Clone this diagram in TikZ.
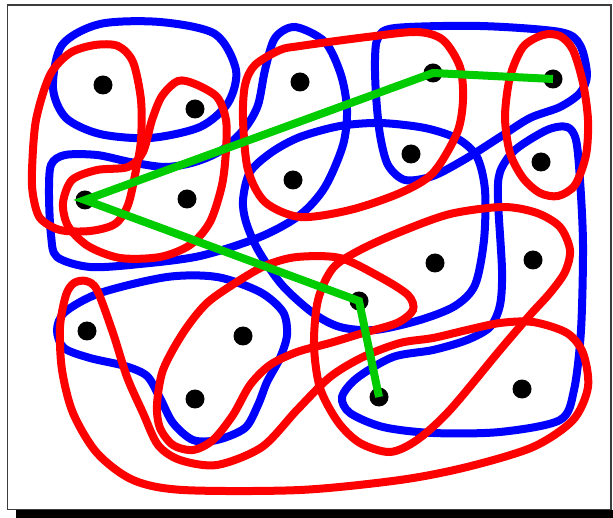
\documentclass[tikz,border=0pt]{standalone}
\definecolor{hblue}{RGB}{0,0,255}
\definecolor{hred}{RGB}{255,0,0}
\definecolor{hgreen}{RGB}{0,204,0}
\definecolor{frame}{RGB}{60,60,60}
\begin{document}
\begin{tikzpicture}[x=1pt,y=-1pt,
  bluecurve/.style={draw=hblue,line width=8pt},
  redcurve/.style={draw=hred,line width=8pt},
  vertex/.style={circle,fill=black,minimum size=19pt,inner sep=0pt},
  greenline/.style={draw=hgreen,line width=8pt,line join=miter}]
\useasboundingbox (0,0) rectangle (613,518);
% shadow and frame
\fill[black] (16,510) rectangle (613,518);
\draw[frame,line width=1.2pt,fill=white] (7.5,5) rectangle (611,509.5);
% blue hyperedges
\draw[bluecurve] plot[smooth cycle] coordinates {(62,45) (100,24) (160,22) (215,34) (236,70) (228,103) (200,127) (150,138) (100,134) (66,118) (53,88)};
\draw[bluecurve] plot[smooth cycle] coordinates {(49,195) (51,165) (65,155) (97,155) (130,162) (165,167) (195,162) (222,150) (245,128) (258,105) (265,70) (275,38) (295,27) (325,42) (341,75) (347,110) (343,145) (325,187) (300,215) (260,237) (200,256) (140,264) (90,267) (57,257) (51,235)};
\draw[bluecurve] plot[smooth cycle] coordinates {(243,200) (250,172) (272,152) (300,137) (340,126) (380,123) (425,128) (458,139) (477,157) (485,190) (484,240) (475,285) (455,306) (420,320) (375,330) (340,327) (313,313) (282,285) (258,250) (246,222)};
\draw[bluecurve] plot[smooth cycle] coordinates {(375,60) (378,38) (395,28) (480,26) (560,32) (580,45) (587,75) (580,93) (560,107) (530,118) (500,137) (467,158) (433,176) (405,180) (388,165) (380,135) (376,95)};
\draw[bluecurve] plot[smooth cycle] coordinates {(498,200) (500,172) (515,150) (547,130) (567,127) (576,140) (580,180) (583,245) (581,330) (574,390) (560,420) (500,432) (433,433) (383,427) (350,413) (342,397) (357,378) (393,357) (433,350) (467,340) (490,327) (500,305) (502,270)};
\draw[bluecurve] plot[smooth cycle] coordinates {(57,330) (65,312) (100,293) (167,277) (217,277) (260,292) (283,312) (287,335) (280,358) (267,382) (258,405) (245,428) (217,440) (193,440) (173,423) (160,398) (147,376) (125,366) (90,358) (64,348)};
% red hyperedges
\draw[redcurve] plot[smooth cycle] coordinates {(32,170) (36,120) (50,75) (70,53) (95,45) (118,46) (133,62) (141,100) (141,140) (136,170) (128,205) (115,224) (90,231) (60,230) (40,218) (33,195)};
\draw[redcurve] plot[smooth cycle] coordinates {(63,203) (72,180) (97,170) (128,167) (143,152) (152,120) (162,96) (178,81) (195,84) (217,97) (226,120) (226,150) (222,185) (210,222) (190,245) (160,257) (120,258) (88,246) (68,226)};
\draw[redcurve] plot[smooth cycle] coordinates {(243,120) (245,85) (255,65) (280,50) (300,46) (367,37) (417,32) (443,40) (460,67) (463,100) (457,133) (433,173) (400,193) (350,210) (300,217) (265,202) (248,170)};
\draw[redcurve] plot[smooth cycle] coordinates {(543,35) (560,36) (573,50) (583,83) (588,120) (586,155) (575,185) (558,196) (540,193) (523,178) (510,153) (505,117) (510,77) (523,47)};
\draw[redcurve] plot[smooth cycle] coordinates {(333,268) (360,250) (400,232) (450,214) (503,207) (537,213) (560,227) (570,250) (565,272) (550,293) (530,315) (500,350) (450,410) (417,440) (390,452) (360,443) (338,422) (320,388) (314,345) (318,300)};
\draw[redcurve] plot[smooth cycle] coordinates {(66,295) (74,283) (86,281) (97,290) (113,333) (127,377) (143,413) (158,445) (180,460) (217,465) (262,447) (297,410) (330,377) (363,357) (400,343) (433,338) (467,330) (500,323) (533,322) (567,333) (583,353) (588,387) (573,420) (533,447) (467,467) (400,480) (300,490) (183,490) (133,480) (97,453) (73,413) (62,370) (60,327)};
\draw[redcurve] plot[smooth cycle] coordinates {(157,405) (163,370) (183,333) (207,303) (240,280) (267,265) (297,257) (340,258) (380,277) (408,295) (413,310) (397,323) (363,333) (330,343) (297,352) (270,365) (250,385) (233,415) (213,440) (193,450) (173,445) (160,428)};
% vertices
\node[vertex] (d1) at (103,85) {};
\node[vertex] (d2) at (195,109) {};
\node[vertex] (d3) at (300,82) {};
\node[vertex] (d4) at (433,73) {};
\node[vertex] (d5) at (553,79) {};
\node[vertex] (d6) at (411,154) {};
\node[vertex] (d7) at (541,162) {};
\node[vertex] (d8) at (293,180) {};
\node[vertex] (d9) at (85,200) {};
\node[vertex] (d10) at (187,199) {};
\node[vertex] (d11) at (435,263) {};
\node[vertex] (d12) at (533,260) {};
\node[vertex] (d13) at (359,301) {};
\node[vertex] (d14) at (87,331) {};
\node[vertex] (d15) at (243,336) {};
\node[vertex] (d16) at (195,399) {};
\node[vertex] (d17) at (379,397) {};
\node[vertex] (d18) at (522,389) {};
% green path
\draw[greenline] (d5.center) -- (d4.center) -- (d9.center) -- (d13.center) -- (d17.center);
\end{tikzpicture}
\end{document}
